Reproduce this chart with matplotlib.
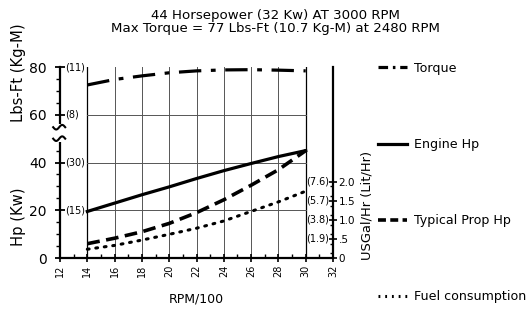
import numpy as np
import matplotlib
matplotlib.use("Agg")
import matplotlib.pyplot as plt
from matplotlib.lines import Line2D

plt.rcParams["font.family"] = ["DejaVu Sans"]

# ---- data ----
rpm = [14, 16, 18, 20, 22, 24, 26, 28, 30]               # RPM/100
torque = [72.5, 74.8, 76.3, 77.6, 78.4, 78.8, 78.9, 78.7, 78.4]   # Lbs-Ft
engine_hp = [19.5, 23.0, 26.5, 29.8, 33.3, 36.6, 39.6, 42.5, 45.0]
prop_hp = [6.0, 8.3, 11.0, 14.5, 19.0, 24.4, 30.5, 37.0, 45.0]
fuel_gph = [0.23, 0.33, 0.47, 0.62, 0.78, 0.97, 1.22, 1.47, 1.75]  # USGal/Hr

left_inner = [(80, "(11)"), (60, "(8)"), (40, "(30)"), (20, "(15)")]
right_inner = [(2.0, "(7.6)"), (1.5, "(5.7)"), (1.0, "(3.8)"), (0.5, "(1.9)")]
GAL_SCALE = 16.0   # left-axis units per USGal/Hr

fig = plt.figure(figsize=(5.32, 3.09), dpi=100)
ax = fig.add_axes([0.1128, 0.165, 0.5132, 0.618])
ax.set_xlim(12, 32)
ax.set_ylim(0, 80)

# grid box 14..30 x 0..80
GRID = "#555555"
for x in range(16, 30, 2):
    ax.plot([x, x], [0, 80], color=GRID, lw=0.7, zorder=1)
for x in (14, 30):
    ax.plot([x, x], [0, 80], color="black", lw=0.9, zorder=1)
for y in (20, 40, 60):
    ax.plot([14, 30], [y, y], color=GRID, lw=0.7, zorder=1)

LW = 2.3
ax.plot(rpm, torque, color="black", lw=LW, dashes=(7, 3, 1.5, 3), zorder=3)
ax.plot(rpm, engine_hp, color="black", lw=LW, zorder=3)
ax.plot(rpm, prop_hp, color="black", lw=2.6, dashes=(3.5, 1.8), zorder=3)

ax2 = ax.twinx()
ax2.set_ylim(0, 80 / GAL_SCALE)
ax2.plot(rpm, fuel_gph, color="black", lw=2.2, dashes=(0.6, 2.2),
         dash_capstyle="round", zorder=3)

# spines
for a in (ax, ax2):
    a.spines["top"].set_visible(False)
ax.spines["right"].set_visible(False)
ax2.spines["left"].set_visible(False)
ax.spines["left"].set_linewidth(1.6)
ax.spines["bottom"].set_linewidth(1.6)
ax2.spines["right"].set_linewidth(1.6)
ax2.spines["bottom"].set_visible(False)

# x ticks
ax.set_xticks(range(12, 33, 2))
ax.set_xticks(range(13, 32, 2), minor=True)
ax.set_xticklabels([str(v) for v in range(12, 33, 2)], rotation=90, fontsize=7)
ax.tick_params(axis="x", which="major", direction="inout", length=6, width=1.2, pad=2)
ax.tick_params(axis="x", which="minor", direction="in", length=3, width=1.0)
ax.set_xlabel("RPM/100", fontsize=9, labelpad=11)

# left y ticks
ax.set_yticks([0, 20, 40, 60, 80])
ax.set_yticks([v for v in range(5, 80, 5) if v % 20], minor=True)
ax.tick_params(axis="y", which="major", labelsize=10, direction="inout",
               length=7, width=1.3, pad=6)
ax.tick_params(axis="y", which="minor", direction="out", length=3, width=1.0)
for v, s in left_inner:
    ax.text(12.35, v, s, ha="left", va="center", fontsize=7)

# right y ticks
ax2.set_yticks([0, 0.5, 1.0, 1.5, 2.0])
ax2.set_yticklabels(["0", ".5", "1.0", "1.5", "2.0"])
ax2.set_yticks(np.arange(0.125, 2.1, 0.25), minor=True)
ax2.tick_params(axis="y", which="major", labelsize=7.5, direction="inout",
                length=6, width=1.2, pad=1)
ax2.tick_params(axis="y", which="minor", direction="in", length=2.5, width=1.0)
for v, s in right_inner:
    ax2.text(31.7, v, s, ha="right", va="center", fontsize=7)
ax2.set_ylabel("USGal/Hr (Lit/Hr)", fontsize=9.4)
ax2.yaxis.set_label_coords(1.10, 0.275)

# axis break on the left spine (axes coordinates)
ta = ax.transAxes
ax.add_patch(plt.Rectangle((-0.02, 0.61), 0.04, 0.09, transform=ta,
                           facecolor="white", edgecolor="none", clip_on=False, zorder=4))
t = np.linspace(-1, 1, 40)
for y0 in (0.625, 0.685):
    ax.plot(-0.003 + 0.022 * t, y0 + 0.012 * np.sin(np.pi * t), transform=ta,
            color="black", lw=1.5, clip_on=False, zorder=5)

# left axis labels
fig.text(0.034, 0.300, "Hp (Kw)", rotation=90, ha="center", va="center", fontsize=10.6)
fig.text(0.034, 0.765, "Lbs-Ft (Kg-M)", rotation=90, ha="center", va="center", fontsize=10.6)

# title
fig.text(0.517, 0.929, "44 Horsepower (32 Kw) AT 3000 RPM\n"
         "Max Torque = 77 Lbs-Ft (10.7 Kg-M) at 2480 RPM",
         ha="center", va="center", fontsize=9.6, linespacing=0.95)

# legend
handles = [
    Line2D([], [], color="black", lw=LW, dashes=(3, 1.5, 0.8, 1.5)),
    Line2D([], [], color="black", lw=LW),
    Line2D([], [], color="black", lw=2.6, dashes=(2.2, 1.2)),
    Line2D([], [], color="black", lw=2.2, dashes=(0.6, 1.6)),
]
labels = ["Torque", "Engine Hp", "Typical Prop Hp", "Fuel consumption"]
fig.legend(handles, labels, loc="upper left", bbox_to_anchor=(0.71, 0.80),
           frameon=False, fontsize=9.1, handlelength=2.3, handletextpad=0.6,
           labelspacing=5.0, borderpad=0, borderaxespad=0)

fig.savefig("out.png", dpi=100)
